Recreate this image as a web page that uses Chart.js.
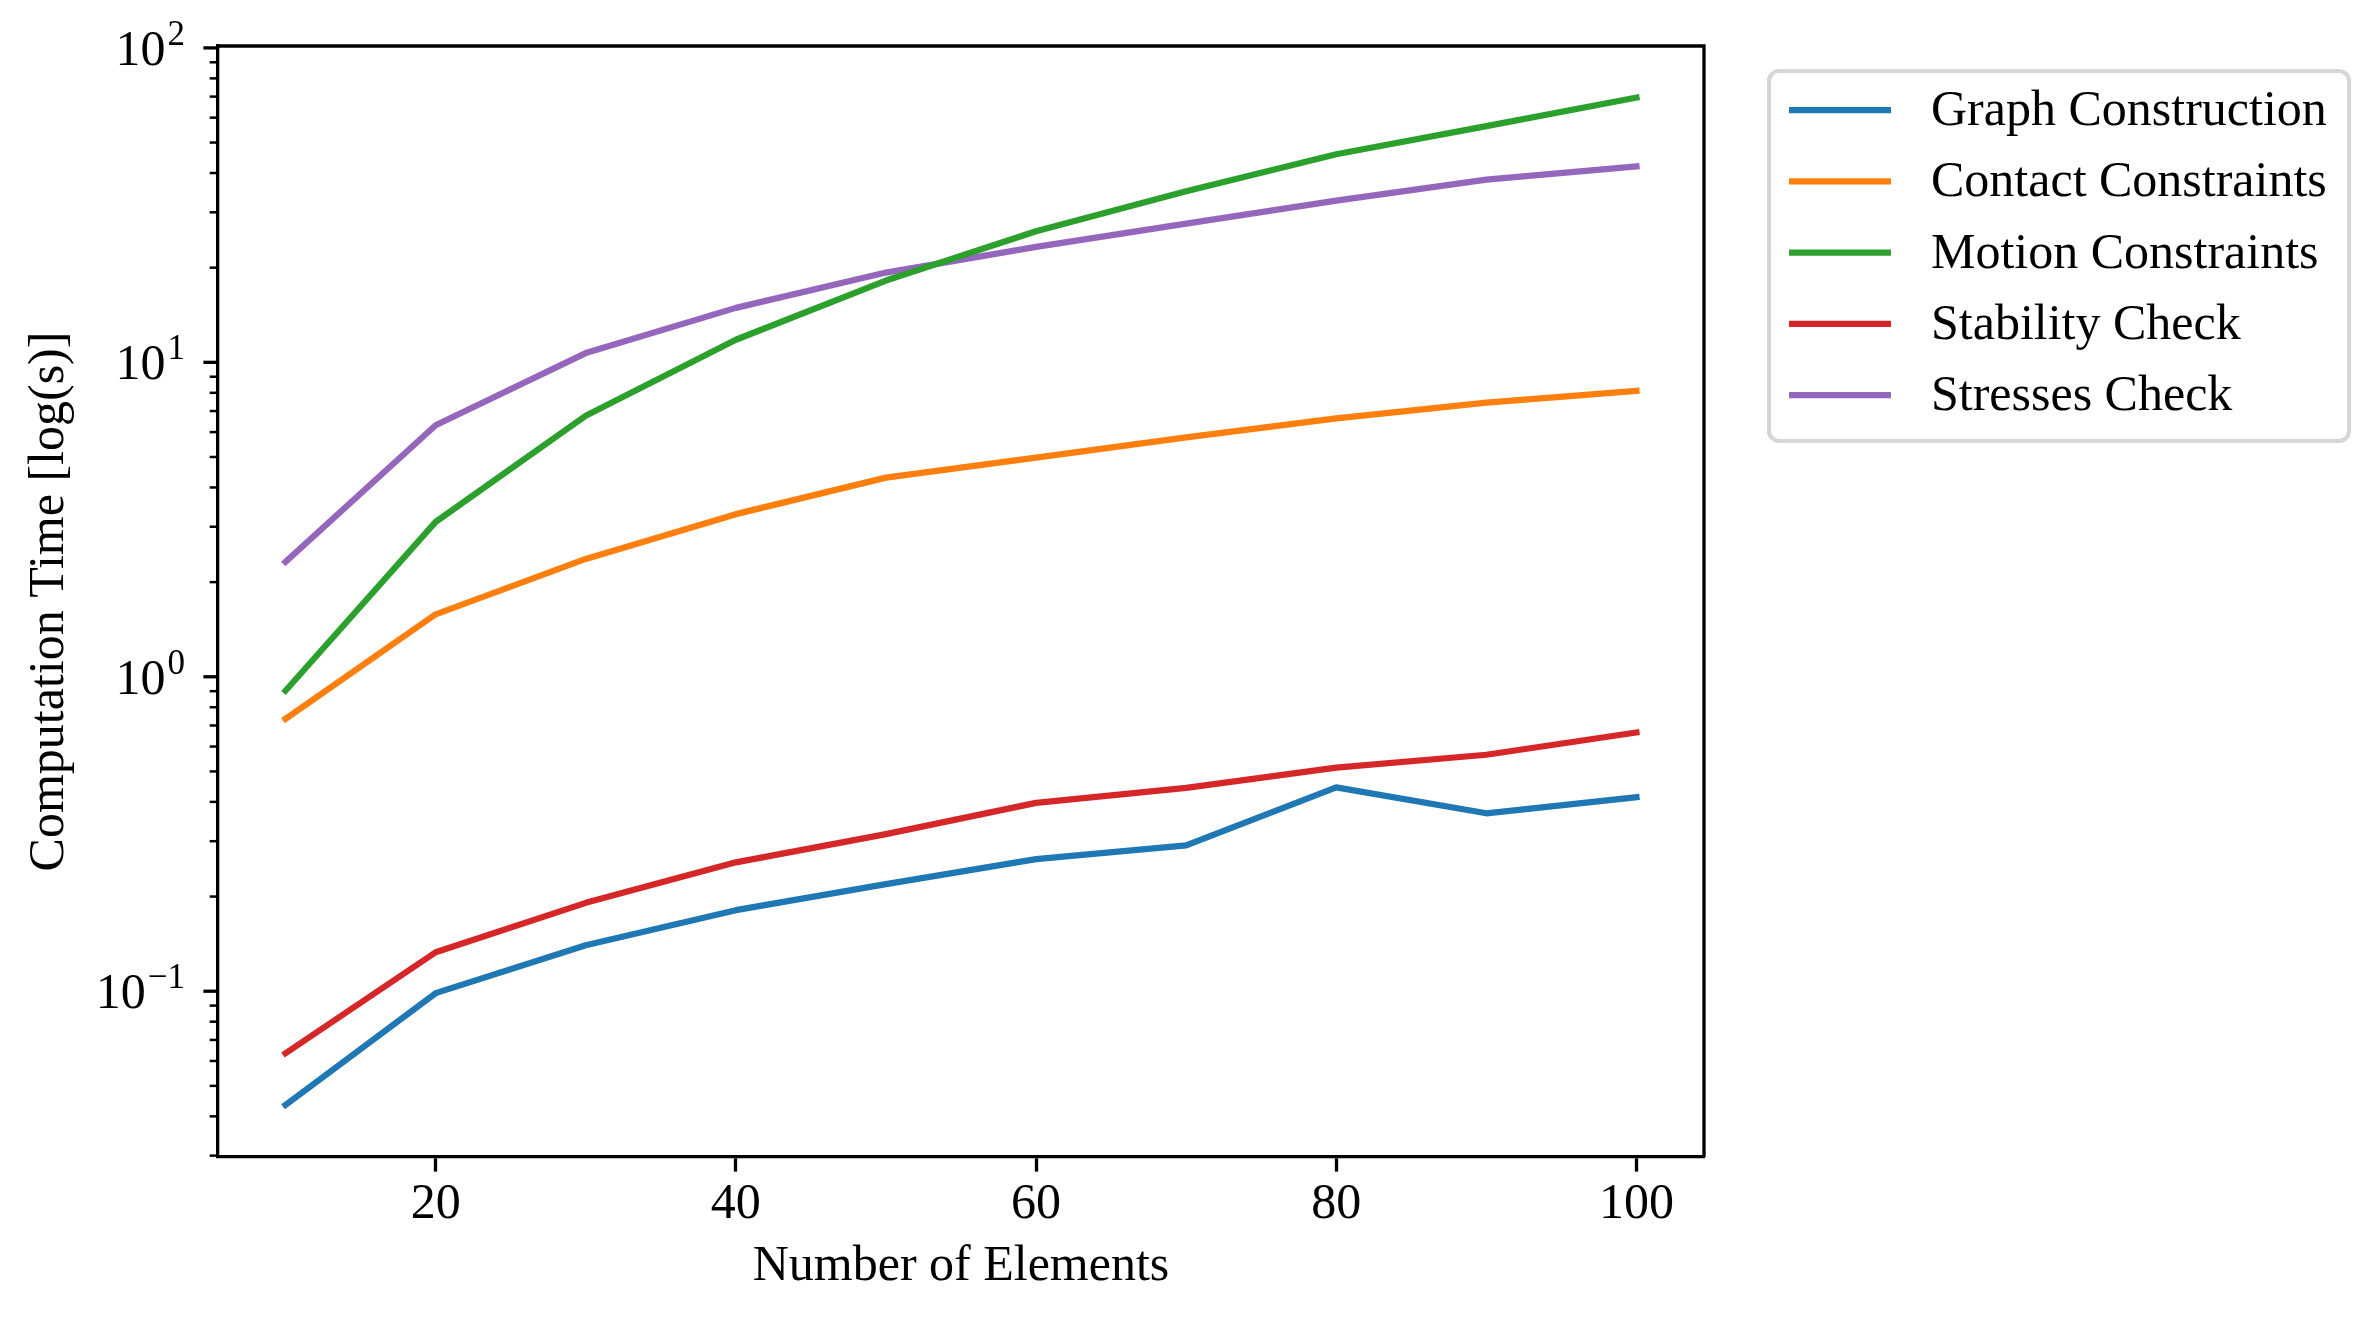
<!DOCTYPE html>
<html>
<head>
<meta charset="utf-8">
<script src="https://cdn.jsdelivr.net/npm/chart.js@4.4.0/dist/chart.umd.min.js"></script>
<style>
  html, body { margin: 0; padding: 0; background: #fff; }
  canvas { display: block; }
</style>
</head>
<body>
<canvas id="chart" width="2379" height="1320" style="width:2379px;height:1320px"></canvas>
<script>
'use strict';

const elements = [10, 20, 30, 40, 50, 60, 70, 80, 90, 100];
const graphConstruction = [0.0435, 0.0986, 0.140, 0.181, 0.219, 0.263, 0.291, 0.445, 0.368, 0.414];
const contactConstraints = [0.735, 1.58, 2.37, 3.29, 4.30, 4.98, 5.77, 6.63, 7.45, 8.11];
const motionConstraints = [0.903, 3.11, 6.76, 11.8, 18.2, 26.1, 35.0, 45.9, 56.4, 69.5];
const stabilityCheck = [0.0635, 0.133, 0.191, 0.257, 0.316, 0.397, 0.443, 0.514, 0.565, 0.665];
const stressesCheck = [2.32, 6.31, 10.7, 14.9, 19.3, 23.3, 27.6, 32.7, 38.1, 42.0];

const xTicks = [20, 40, 60, 80, 100];
const yMajorTicks = [0.1, 1, 10, 100];
const yTickExponents = ['\u22121', '0', '1', '2'];

const FONT = '"Liberation Serif", "Times New Roman", serif';

const toPoints = ys => elements.map((x, i) => ({ x: x, y: ys[i] }));

const makeSet = (label, ys, color) => ({
    label: label,
    data: toPoints(ys),
    borderColor: color,
    backgroundColor: color,
    borderWidth: 6.25,
    pointRadius: 0,
    tension: 0,
    fill: false,
    borderJoinStyle: 'round',
    borderCapStyle: 'square'
});

// y ticks (log style, with superscripts), top/right spines, legend box
const extras = {
    id: 'extras',
    afterDraw(chart) {
        const ctx = chart.ctx;
        const area = chart.chartArea;
        const y = chart.scales.y;
        ctx.save();

        // minor ticks
        ctx.strokeStyle = '#000';
        ctx.lineWidth = 2.5;
        for (let n = -2; n <= 2; n++) {
            for (let k = 2; k <= 9; k++) {
                const v = k * Math.pow(10, n);
                if (v < y.min || v > y.max) continue;
                const py = y.getPixelForValue(v);
                ctx.beginPath();
                ctx.moveTo(area.left, py);
                ctx.lineTo(area.left - 8.3, py);
                ctx.stroke();
            }
        }

        // major ticks + labels
        ctx.lineWidth = 3.3;
        ctx.fillStyle = '#000';
        yMajorTicks.forEach((v, i) => {
            const py = y.getPixelForValue(v);
            ctx.beginPath();
            ctx.moveTo(area.left, py);
            ctx.lineTo(area.left - 14.6, py);
            ctx.stroke();

            const right = area.left - 33;
            ctx.font = '35px ' + FONT;
            const expW = ctx.measureText(yTickExponents[i]).width;
            ctx.textAlign = 'right';
            ctx.textBaseline = 'alphabetic';
            ctx.fillText(yTickExponents[i], right, py - 3);
            ctx.font = '50px ' + FONT;
            ctx.fillText('10', right - expW - 2, py + 17);
        });

        // top and right spines
        ctx.lineWidth = 3.3;
        ctx.beginPath();
        ctx.moveTo(area.left, area.top);
        ctx.lineTo(area.right, area.top);
        ctx.lineTo(area.right, area.bottom);
        ctx.stroke();

        // legend
        const bx = 1769, by = 71, bw = 580, bh = 370;
        ctx.beginPath();
        ctx.roundRect(bx, by, bw, bh, 10);
        ctx.fillStyle = 'rgba(255,255,255,0.8)';
        ctx.fill();
        ctx.strokeStyle = 'rgba(204,204,204,0.8)';
        ctx.lineWidth = 4.2;
        ctx.stroke();

        ctx.font = '50px ' + FONT;
        ctx.textAlign = 'left';
        ctx.textBaseline = 'middle';
        chart.data.datasets.forEach((ds, i) => {
            const ly = 110 + i * 71.3;
            ctx.strokeStyle = ds.borderColor;
            ctx.lineWidth = 6.25;
            ctx.lineCap = 'butt';
            ctx.beginPath();
            ctx.moveTo(1789, ly);
            ctx.lineTo(1891, ly);
            ctx.stroke();
            ctx.fillStyle = '#000';
            ctx.fillText(ds.label, 1931, ly + 2);
        });

        ctx.restore();
    }
};

const ctx = document.getElementById('chart').getContext('2d');
const myChart = new Chart(ctx, {
    type: 'line',
    data: {
        datasets: [
            makeSet('Graph Construction', graphConstruction, '#1f77b4'),
            makeSet('Contact Constraints', contactConstraints, '#ff7f0e'),
            makeSet('Motion Constraints', motionConstraints, '#2ca02c'),
            makeSet('Stability Check', stabilityCheck, '#d62728'),
            makeSet('Stresses Check', stressesCheck, '#9467bd')
        ]
    },
    options: {
        responsive: false,
        animation: false,
        devicePixelRatio: 1,
        layout: {
            padding: { top: 46, right: 675, left: 0, bottom: 0 }
        },
        plugins: {
            legend: { display: false },
            tooltip: { enabled: false }
        },
        scales: {
            x: {
                type: 'linear',
                min: 5.5,
                max: 104.5,
                afterBuildTicks: s => { s.ticks = xTicks.map(v => ({ value: v })); },
                afterFit: s => { s.height = 163; },
                ticks: {
                    color: '#000',
                    font: { family: FONT, size: 50 },
                    padding: 3,
                    maxRotation: 0,
                    autoSkip: false
                },
                grid: {
                    display: true,
                    drawOnChartArea: false,
                    drawTicks: true,
                    tickLength: 14.6,
                    tickWidth: 3.3,
                    tickColor: '#000'
                },
                border: { display: true, color: '#000', width: 3.3 },
                title: {
                    display: true,
                    text: 'Number of Elements',
                    color: '#000',
                    font: { family: FONT, size: 50 },
                    padding: { top: 0, bottom: 23 }
                }
            },
            y: {
                type: 'logarithmic',
                min: 0.0297,
                max: 101.4,
                afterFit: s => { s.width = 218; },
                ticks: { display: false },
                grid: { display: false },
                border: { display: true, color: '#000', width: 3.3 },
                title: {
                    display: true,
                    text: 'Computation Time [log(s)]',
                    color: '#000',
                    font: { family: FONT, size: 50 },
                    padding: { top: 20, bottom: 0 }
                }
            }
        }
    },
    plugins: [extras]
});
</script>
</body>
</html>
